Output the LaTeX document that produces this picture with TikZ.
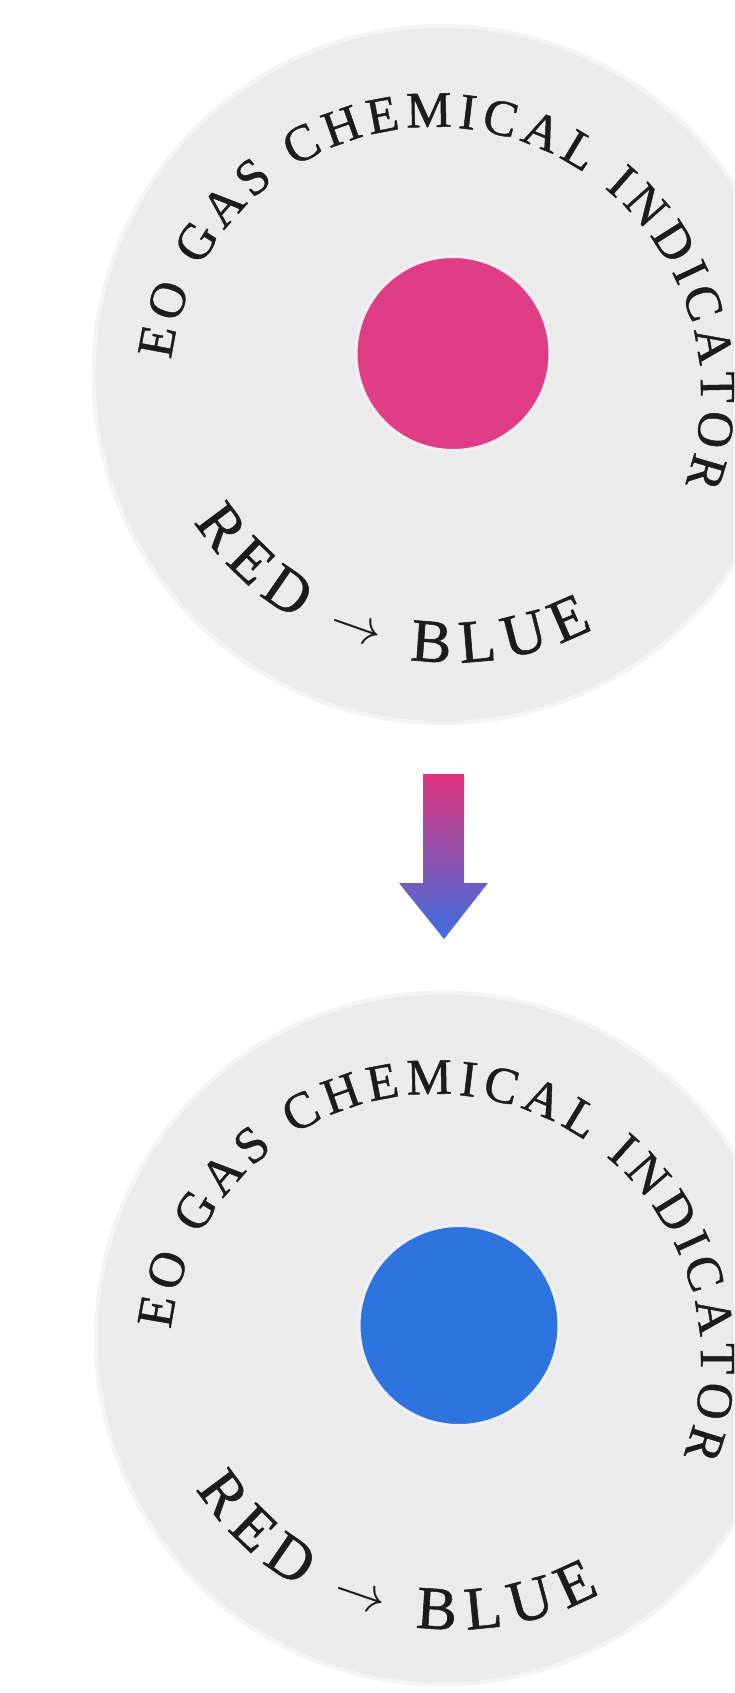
\documentclass[tikz,border=0pt]{standalone}
\usepackage{fontspec}
\usepackage{graphicx}
\setmainfont{Liberation Serif}
\newfontfamily\indfont[FakeBold=0.9]{Liberation Serif}
\usetikzlibrary{decorations.text,calc}
\definecolor{diskgray}{HTML}{EBEBEB}
\definecolor{diskhalo}{HTML}{F4F4F4}
\definecolor{dothalo}{HTML}{F6EEF2}
\definecolor{dothaloblue}{HTML}{EEF2F8}
\definecolor{pinkdot}{HTML}{DF3D86}
\definecolor{bluedot}{HTML}{2E73DE}
\definecolor{ink}{HTML}{1C1C1C}
\definecolor{arrtop}{HTML}{E2367E}
\definecolor{arrbot}{HTML}{3B6FE0}
\newcommand\toptextfont{\indfont\fontsize{51}{58}\selectfont\color{ink}}
\newcommand\bottextfont{\indfont\fontsize{61}{68}\selectfont\color{ink}}
\newcommand\longarrowglyph{\raisebox{5pt}{\fontsize{10}{12}\selectfont\scalebox{5.2}{$\rightarrow$}}}
\begin{document}
\begin{tikzpicture}[x=1pt,y=1pt,
  diskbox/.style={circle, fill=diskgray, draw=diskhalo, line width=4pt, inner sep=0pt},
  dotbox/.style={circle, inner sep=0pt, line width=3pt},
  toptext/.style={decorate, decoration={text along path, text align={fit to path},
     text={|\toptextfont|EO GAS CHEMICAL INDICATOR}}},
  bottext/.style={decorate, decoration={text along path, text align={fit to path},
     text={|\bottextfont|RED {\longarrowglyph} BLUE}}}]
\useasboundingbox (0,0) rectangle (734,-1693);
\fill[white] (0,0) rectangle (734,-1693);
\clip (0,0) rectangle (734,-1693);

% top indicator
\node[diskbox, minimum size=697pt] (disk1) at (442,-374.5) {};
\node[dotbox, fill=pinkdot, draw=dothalo, minimum size=194pt] (dot1) at (453,-353.5) {};
\coordinate (ring1) at (435,-393);
\coordinate (arc1) at (453,-353.5);
\path[toptext] (ring1) ++(172.8:266) arc[start angle=172.8, end angle=-20, radius=266];
\path[bottext] (arc1) ++(213:309) arc[start angle=213, end angle=297, radius=309];

% arrow
\coordinate (arrtopc) at (444,-774);
\coordinate (arrtip) at (444,-939);
\shade[top color=arrtop, bottom color=arrbot]
  ($(arrtopc)+(-21,0)$) -- ($(arrtopc)+(20,0)$) -- ($(arrtopc)+(20,-109)$)
  -- ($(arrtopc)+(44,-109)$) -- (arrtip) -- ($(arrtopc)+(-45,-109)$)
  -- ($(arrtopc)+(-21,-109)$) -- cycle;

% bottom indicator
\node[diskbox, minimum size=692pt] (disk2) at (442,-1338.5) {};
\node[dotbox, fill=bluedot, draw=dothaloblue, minimum size=200pt] (dot2) at (459,-1325.5) {};
\coordinate (ring2) at (435,-1360);
\coordinate (arc2) at (455,-1320.5);
\path[toptext] (ring2) ++(173.4:266) arc[start angle=173.4, end angle=-21, radius=266];
\path[bottext] (arc2) ++(213:309) arc[start angle=213, end angle=298, radius=309];
\end{tikzpicture}
\end{document}
